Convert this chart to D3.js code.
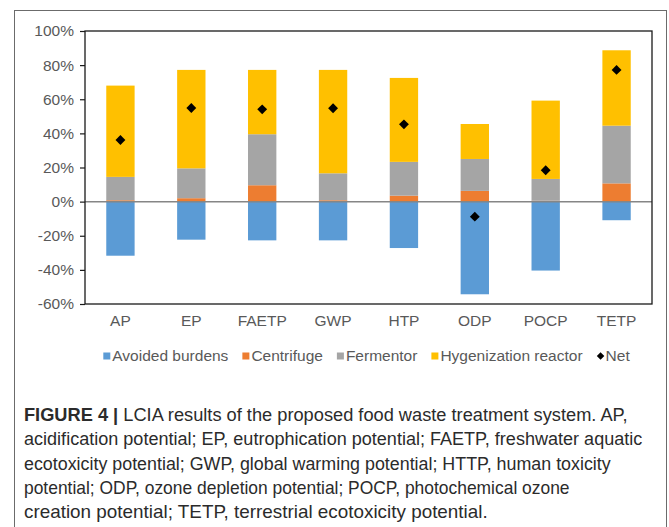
<!DOCTYPE html>
<html><head><meta charset="utf-8">
<script src="https://cdn.jsdelivr.net/npm/d3@7"></script>
<style>
html,body{margin:0;padding:0;background:#fff;}
svg{display:block;}
</style></head>
<body>
<svg id="chart" width="669" height="527"></svg>
<script>
const categories = ["AP","EP","FAETP","GWP","HTP","ODP","POCP","TETP"];
const avoidedBurdens = [-31.7,-22.3,-22.7,-22.7,-27.2,-54.3,-40.4,-10.9];
const centrifuge = [0.8,2.0,9.6,0.8,3.5,6.3,0.5,10.7];
const fermentor = [13.7,17.5,29.9,15.8,19.8,18.7,12.8,33.8];
const hygenization = [53.5,57.7,37.7,60.6,49.2,20.5,45.9,44.2];
const net = [36.1,54.9,54.1,54.7,45.3,-8.8,18.4,77.2];
const yTicks = [-60,-40,-20,0,20,40,60,80,100];
const seriesNames = ["Avoided burdens","Centrifuge","Fermentor","Hygenization reactor","Net"];
const seriesColors = ["#5B9BD5","#ED7D31","#A5A5A5","#FFC000","#000000"];
const captionLines = [
  ["FIGURE 4 | ","LCIA results of the proposed food waste treatment system. AP,"],
  ["","acidification potential; EP, eutrophication potential; FAETP, freshwater aquatic"],
  ["","ecotoxicity potential; GWP, global warming potential; HTTP, human toxicity"],
  ["","potential; ODP, ozone depletion potential; POCP, photochemical ozone"],
  ["","creation potential; TETP, terrestrial ecotoxicity potential."]
];
const captionWidths = [604, 619, 587, 546, 464];

const svg = d3.select("#chart");
const font = "'Liberation Sans', Arial, sans-serif";
const textColor = "#595959";
const fs = "15.5px";

// outer frame
svg.append("rect").attr("x",14.5).attr("y",10.5).attr("width",652).attr("height",540)
  .attr("fill","none").attr("stroke","#6b6b6b").attr("stroke-width",1);

const plot = {left:85, right:652, top:31, bottom:304};
const x = d3.scaleBand().domain(categories).range([plot.left, plot.right]).paddingInner(0.6).paddingOuter(0.3);
const y = d3.scaleLinear().domain([-60,100]).range([plot.bottom, plot.top]);

// stacked positive segments
const posSeries = [centrifuge, fermentor, hygenization];
const posColors = [seriesColors[1], seriesColors[2], seriesColors[3]];
categories.forEach((c,i)=>{
  let base = 0;
  posSeries.forEach((s,k)=>{
    const v = s[i];
    svg.append("rect")
      .attr("x", x(c)).attr("width", x.bandwidth())
      .attr("y", y(base+v)).attr("height", y(base)-y(base+v))
      .attr("fill", posColors[k]);
    base += v;
  });
  svg.append("rect")
    .attr("x", x(c)).attr("width", x.bandwidth())
    .attr("y", y(0)).attr("height", y(avoidedBurdens[i]) - y(0))
    .attr("fill", seriesColors[0]);
});

// zero line
svg.append("line").attr("x1",plot.left).attr("x2",plot.right).attr("y1",y(0)).attr("y2",y(0))
  .attr("stroke","#868686").attr("stroke-width",1.5);

// plot border
svg.append("rect").attr("x",plot.left).attr("y",plot.top).attr("width",plot.right-plot.left).attr("height",plot.bottom-plot.top)
  .attr("fill","none").attr("stroke","#1a1a1a").attr("stroke-width",1.3);

// y axis
const yAxis = svg.append("g").attr("transform",`translate(${plot.left},0)`)
  .call(d3.axisLeft(y).tickValues(yTicks).tickSize(5).tickPadding(6).tickFormat(d=>d+"%"));
yAxis.select(".domain").remove();
yAxis.selectAll(".tick line").attr("stroke","#1a1a1a").attr("stroke-width",1.2);
yAxis.selectAll(".tick text").attr("fill",textColor).style("font-family",font).style("font-size",fs);

// x axis labels
const xAxis = svg.append("g").attr("transform",`translate(0,${plot.bottom})`)
  .call(d3.axisBottom(x).tickSize(0).tickPadding(11));
xAxis.select(".domain").remove();
xAxis.selectAll(".tick text").attr("fill",textColor).style("font-family",font).style("font-size",fs);

// net diamonds
const diamond = d3.symbol().type(d3.symbolDiamond2).size(62);
svg.selectAll(".net").data(categories).enter().append("path")
  .attr("transform",(c,i)=>`translate(${x(c)+x.bandwidth()/2},${y(net[i])})`)
  .attr("d",diamond).attr("fill","#000");

// legend
const lg = svg.append("g").attr("transform","translate(0,356)");
const items = [];
let cx = 0;
seriesNames.forEach((n,i)=>{
  const g = lg.append("g");
  if(i<4){
    g.append("rect").attr("x",0).attr("y",-3.5).attr("width",7).attr("height",7).attr("fill",seriesColors[i]);
  } else {
    g.append("path").attr("d",d3.symbol().type(d3.symbolDiamond2).size(36)()).attr("transform","translate(4,0)").attr("fill","#000");
  }
  const t = g.append("text").attr("x",9).attr("dy","0.35em").text(n)
    .attr("fill",textColor).style("font-family",font).style("font-size",fs);
  const w = 9 + t.node().getComputedTextLength();
  items.push({g,w});
});
const gap = 14;
const total = d3.sum(items,d=>d.w) + gap*(items.length-1);
cx = (plot.left+plot.right)/2 - total/2 - 2;
items.forEach(it=>{ it.g.attr("transform",`translate(${cx},0)`); cx += it.w + gap; });

// caption
const capFont = "'Liberation Sans Narrow', 'Liberation Sans', Arial, sans-serif";
captionLines.forEach((ln,i)=>{
  const t = svg.append("text").attr("x",24).attr("y",421 + i*24.3)
    .style("font-family",capFont).style("font-size","17.5px").attr("fill","#2b2b2b");
  if(ln[0]) t.append("tspan").style("font-weight","bold").text(ln[0]);
  t.append("tspan").text(ln[1]);
  const w = t.node().getComputedTextLength();
  const s = captionWidths[i]/w;
  t.attr("transform",`translate(${24*(1-s)},0) scale(${s},1)`);
});
</script>
</body></html>
